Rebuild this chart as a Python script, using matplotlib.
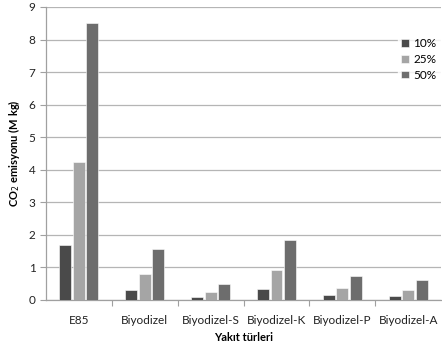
import numpy as np
import matplotlib.pyplot as plt

plt.rcParams['font.family'] = ['Lato', 'DejaVu Sans']

categories = ['E85', 'Biyodizel', 'Biyodizel-S', 'Biyodizel-K', 'Biyodizel-P', 'Biyodizel-A']
series_names = ['10%', '25%', '50%']
values_10 = [1.70, 0.31, 0.10, 0.35, 0.14, 0.12]
values_25 = [4.25, 0.80, 0.25, 0.92, 0.37, 0.30]
values_50 = [8.50, 1.58, 0.50, 1.85, 0.74, 0.61]
colors = ['#4a4a4a', '#a5a5a5', '#6d6d6d']

fig = plt.figure(figsize=(4.42, 3.48), dpi=100)
ax = fig.add_axes([0.104, 0.138, 0.894, 0.842])

x = np.arange(len(categories))
width = 0.18
step = 0.205
for i, (vals, name, c) in enumerate(zip([values_10, values_25, values_50], series_names, colors)):
    ax.bar(x + (i - 1) * step, vals, width, color=c, edgecolor='white', linewidth=0.4,
           label=name, zorder=3)

ax.set_xlim(-0.5, len(categories) - 0.5)
ax.set_ylim(0, 9)
ax.set_yticks(range(0, 10))
# major ticks = separators, minor ticks carry the category labels
ax.set_xticks(np.arange(0.5, len(categories) - 0.5))
ax.set_xticklabels([])
ax.set_xticks(x, minor=True)
ax.set_xticklabels(categories, minor=True)
ax.tick_params(axis='x', which='major', length=4, color='#a0a0a0')
ax.tick_params(axis='x', which='minor', length=0, labelsize=8.5, pad=11, labelcolor='#222222')
ax.tick_params(axis='y', length=4, color='#a0a0a0', labelsize=8.5, labelcolor='#222222')

ax.grid(False)
ax.yaxis.grid(True, color='#b5b5b5', linewidth=0.9)
ax.set_axisbelow(True)

for s in ['top', 'right']:
    ax.spines[s].set_visible(False)
for s in ['left', 'bottom']:
    ax.spines[s].set_color('#a0a0a0')
    ax.spines[s].set_linewidth(0.9)

ax.set_xlabel('Yakıt türleri', fontsize=8, fontweight='bold', labelpad=4)
ax.set_ylabel('CO$_2$ emisyonu (M kg)', fontsize=8, fontweight='bold', labelpad=5)

leg = ax.legend(loc='upper right', bbox_to_anchor=(1.012, 0.925), frameon=True, fontsize=8.5,
                handlelength=0.6, handleheight=0.6, handletextpad=0.4, labelspacing=0.4,
                borderpad=0.3)
leg.get_frame().set_facecolor('white')
leg.get_frame().set_edgecolor('white')

fig.savefig('out.png', dpi=100)
